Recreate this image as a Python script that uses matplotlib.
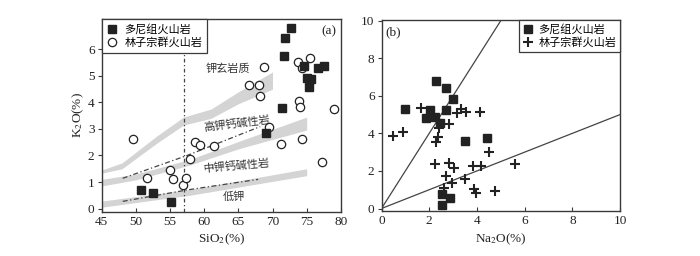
import numpy as np
import matplotlib
matplotlib.use("Agg")
import matplotlib.pyplot as plt

plt.rcParams['font.family'] = ['Liberation Serif', 'Noto Sans CJK SC']
plt.rcParams['mathtext.fontset'] = 'stix'

# ---------------- data: panel (a) ----------------
dn_sio2 = [72.7, 71.9, 71.7, 74.6, 76.6, 77.5, 75.1, 75.7, 75.4, 71.4, 69.1, 50.8, 52.6, 55.1]
dn_k2o = [6.80, 6.45, 5.77, 5.36, 5.30, 5.36, 4.92, 4.90, 4.60, 3.79, 2.85, 0.68, 0.58, 0.26]

lz_sio2 = [49.65, 51.6, 55.06, 55.45, 56.9, 57.35, 58.0, 58.6, 59.35, 61.4, 66.6, 68.0,
           68.2, 68.8, 69.5, 71.2, 73.7, 73.9, 74.0, 74.3, 74.3, 75.5, 77.2, 79.0]
lz_k2o = [2.62, 1.14, 1.45, 1.11, 0.90, 1.14, 1.86, 2.51, 2.38, 2.36, 4.66, 4.66,
          4.26, 5.35, 3.06, 2.43, 5.54, 4.07, 3.82, 2.61, 5.30, 5.69, 1.74, 3.75]

# boundary bands (SiO2, lower K2O, upper K2O)
bandA_x = [45, 48, 53, 57, 61, 65, 70]
bandA_lo = [1.33, 1.50, 2.45, 3.15, 3.40, 3.95, 4.50]
bandA_hi = [1.45, 1.72, 2.72, 3.45, 3.75, 4.40, 5.15]
bandB_x = [45, 50, 57.9, 65.25, 75]
bandB_lo = [0.85, 1.08, 1.64, 2.27, 2.96]
bandB_hi = [1.10, 1.30, 1.85, 2.55, 3.45]
bandC_x = [45, 57.9, 75]
bandC_lo = [0.05, 0.50, 1.24]
bandC_hi = [0.28, 0.72, 1.50]

dash1_x = [48.1, 57.5, 68.2]
dash1_y = [1.14, 2.00, 3.09]
dash2_x = [48.1, 57.5, 67.9]
dash2_y = [0.27, 0.70, 1.10]
div_sio2 = 57.0

# ---------------- data: panel (b) ----------------
dn_na2o = [2.27, 2.70, 2.98, 1.00, 2.02, 2.70, 1.85, 2.23, 2.47, 4.43, 3.49, 2.54, 2.87, 2.54]
dn_k2o_b = [6.80, 6.43, 5.81, 5.28, 5.24, 5.24, 4.80, 4.88, 4.56, 3.73, 3.59, 0.75, 0.54, 0.19]

lz_na2o = [0.49, 0.88, 1.64, 2.41, 2.37, 2.27, 2.83, 3.16, 3.32, 3.53, 4.11, 2.26, 2.83,
           3.03, 2.72, 2.61, 2.94, 3.49, 3.83, 4.15, 3.87, 3.97, 4.74, 4.49, 5.61]
lz_k2o_b = [3.86, 4.05, 5.33, 4.30, 3.82, 3.55, 4.49, 5.10, 5.28, 5.12, 5.12, 2.35, 2.40,
            2.14, 1.73, 1.11, 1.34, 1.57, 2.28, 2.28, 1.04, 0.84, 0.95, 2.99, 2.35]

ratio_lines = [2.0, 0.5]   # K2O/Na2O

# ---------------- figure ----------------
fig = plt.figure(figsize=(7.0, 2.56), dpi=100)
ax1 = fig.add_axes([0.145, 0.173, 0.342, 0.753])
ax2 = fig.add_axes([0.545, 0.176, 0.341, 0.746])

spine_c = '#3a3a3a'
band_c = '#d4d4d4'
mk_c = '#222222'
cjk = ['Noto Sans CJK SC', 'Liberation Serif']

for ax in (ax1, ax2):
    for s in ax.spines.values():
        s.set_color(spine_c)
        s.set_linewidth(1.0)
    ax.tick_params(axis='x', direction='in', length=3, width=0.8, colors=spine_c,
                   labelsize=9.5, labelcolor='#222', pad=3)
    ax.tick_params(axis='y', direction='out', length=3, width=0.8, colors=spine_c,
                   labelsize=9.5, labelcolor='#222', pad=2)

# panel (a)
for bx, lo, hi in ((bandA_x, bandA_lo, bandA_hi), (bandB_x, bandB_lo, bandB_hi),
                   (bandC_x, bandC_lo, bandC_hi)):
    ax1.fill_between(bx, lo, hi, color=band_c, lw=0, zorder=1)
ax1.plot(dash1_x, dash1_y, color='#444', lw=0.9, ls=(0, (4, 2, 1, 2)), zorder=2)
ax1.plot(dash2_x, dash2_y, color='#444', lw=0.9, ls=(0, (4, 2, 1, 2)), zorder=2)
ax1.axvline(div_sio2, color='#444', lw=0.9, ls=(0, (3, 2, 1, 2)), zorder=2)

ax1.plot(dn_sio2, dn_k2o, 's', ms=5.2, color=mk_c, mec=mk_c, ls='none',
         label='多尼组火山岩', zorder=4)
ax1.plot(lz_sio2, lz_k2o, 'o', ms=6, mfc='white', mec=mk_c, mew=0.9, ls='none',
         label='林子宗群火山岩', zorder=3)

ax1.set_xlim(45, 80)
ax1.set_ylim(-0.12, 7.15)
ax1.set_xticks([45, 50, 55, 60, 65, 70, 75, 80])
ax1.set_yticks([0, 1, 2, 3, 4, 5, 6])
ax1.set_xlabel(r'SiO$_2$(%)', fontsize=9.5, color='#222', labelpad=3)
ax1.set_ylabel(r'K$_2$O(%)', fontsize=9.5, color='#222', labelpad=1)

ax1.text(63.5, 5.29, '钾玄岩质', family=cjk, fontsize=8, color='#333',
         ha='center', va='center', zorder=5)
ax1.text(64.8, 3.2, '高钾钙碱性岩', family=cjk, fontsize=8, color='#333',
         ha='center', va='center', rotation=7, zorder=5)
ax1.text(64.8, 1.62, '中钾钙碱性岩', family=cjk, fontsize=8, color='#333',
         ha='center', va='center', rotation=5, zorder=5)
ax1.text(64.3, 0.45, '低钾', family=cjk, fontsize=8, color='#333',
         ha='center', va='center', zorder=5)
ax1.text(78.3, 6.67, '(a)', fontsize=9.5, color='#222', ha='center', va='center')

leg1 = ax1.legend(loc='upper left', borderaxespad=0, frameon=True, fancybox=False,
                  edgecolor=spine_c, framealpha=1, prop={'family': cjk, 'size': 8},
                  handletextpad=0.6, borderpad=0.45, labelspacing=0.25, handlelength=1.0)
leg1.get_frame().set_linewidth(0.9)
leg1.set_zorder(10)

# panel (b)
xx = np.array([0, 10])
for r in ratio_lines:
    ax2.plot(xx, r * xx, color='#444', lw=0.9, zorder=2)
ax2.plot(dn_na2o, dn_k2o_b, 's', ms=5.8, color=mk_c, mec=mk_c, ls='none',
         label='多尼组火山岩', zorder=4)
ax2.plot(lz_na2o, lz_k2o_b, '+', ms=7, mew=1.5, color=mk_c, ls='none',
         label='林子宗群火山岩', zorder=3)
ax2.set_xlim(0, 10)
ax2.set_ylim(-0.13, 10.03)
ax2.set_xticks([0, 2, 4, 6, 8, 10])
ax2.set_yticks([0, 2, 4, 6, 8, 10])
ax2.set_xlabel(r'Na$_2$O(%)', fontsize=9.5, color='#222', labelpad=3)
ax2.text(0.5, 9.4, '(b)', fontsize=9.5, color='#222', ha='center', va='center')

leg2 = ax2.legend(loc='upper right', borderaxespad=0, frameon=True, fancybox=False,
                  edgecolor=spine_c, framealpha=1, prop={'family': cjk, 'size': 8},
                  handletextpad=0.4, borderpad=0.35, labelspacing=0.25, handlelength=1.0)
leg2.get_frame().set_linewidth(0.9)
leg2.set_zorder(10)

fig.savefig('out.png', dpi=100, facecolor='white')
